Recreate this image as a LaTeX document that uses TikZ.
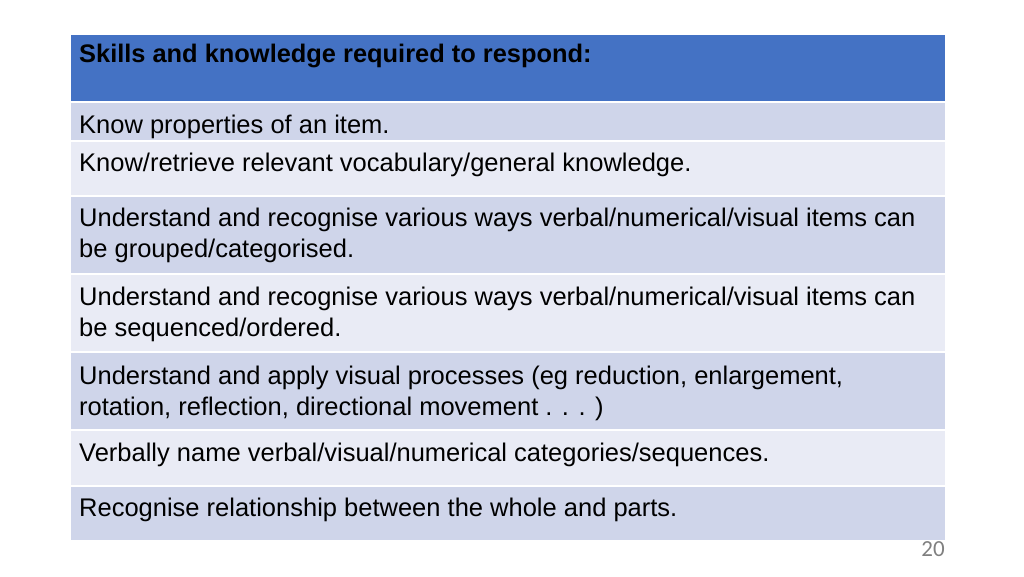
\documentclass[tikz,border=0pt]{standalone}
\usepackage{fontspec}
\setmainfont{Liberation Sans}
\newfontfamily\numfont{Carlito}
\definecolor{headblue}{HTML}{4472C4}
\definecolor{rowdark}{HTML}{CFD5EA}
\definecolor{rowlight}{HTML}{E9EBF5}
\tikzset{
  celltext/.style={anchor=base west, align=left, inner sep=0pt,
    font=\fontsize{25.5}{31}\selectfont},
  cellbox/.style={draw=white, line width=2pt}
}
\begin{document}
\begin{tikzpicture}[x=1pt,y=-1pt]
\useasboundingbox (0,0) rectangle (1024,576);

% Table rows (top, bottom, colour)
\foreach \top/\bot/\col in {34/102/headblue, 102/141/rowdark, 141/196/rowlight,
    196/274/rowdark, 274/352/rowlight, 352/430/rowdark, 430/486/rowlight,
    486/541/rowdark}
  \filldraw[cellbox, fill=\col] (70,\top) rectangle (946,\bot);

% Header
\node[celltext, font=\fontsize{25.4}{31}\selectfont\bfseries] (head) at (79,62)
  {Skills and knowledge required to respond:};

% Rows (anchored at the baseline of the last line)
\node[celltext] (know) at (79,133) {Know properties of an item.};
\node[celltext] (vocab) at (79,171) {Know/retrieve relevant vocabulary/general knowledge.};
\node[celltext] (group) at (79,257) {Understand and recognise various ways verbal/numerical/visual items can\\be grouped/categorised.};
\node[celltext] (order) at (79,336) {Understand and recognise various ways verbal/numerical/visual items can\\be sequenced/ordered.};
\node[celltext] (visual) at (79,415) {Understand and apply visual processes (eg reduction, enlargement,\\rotation, reflection, directional movement . . . )};
\node[celltext] (name) at (79,461) {Verbally name verbal/visual/numerical categories/sequences.};
\node[celltext] (whole) at (79,516) {Recognise relationship between the whole and parts.};

% Page number
\node[text=gray, font=\numfont\fontsize{23}{26}\selectfont] (page) at (933,549) {20};
\end{tikzpicture}
\end{document}
